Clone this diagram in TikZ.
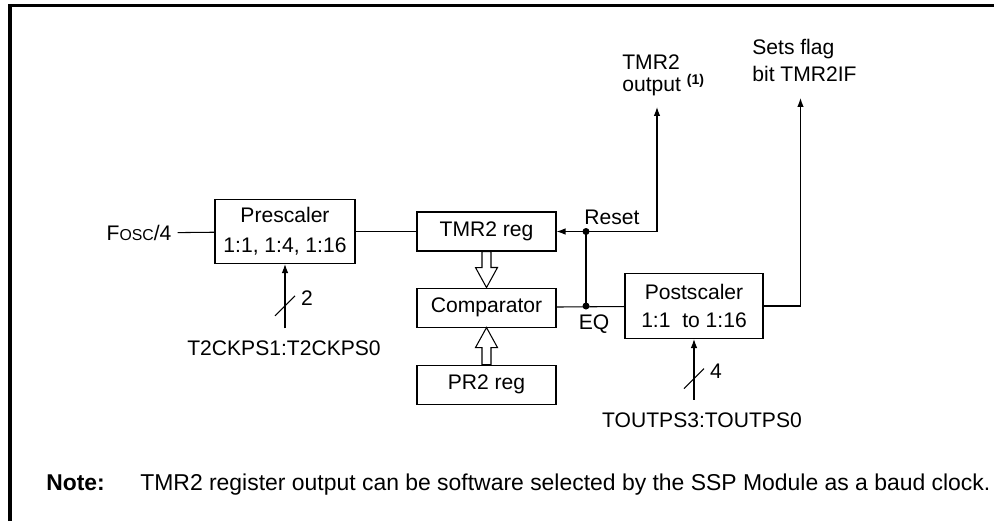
\documentclass[tikz,border=0pt]{standalone}
\usepackage{fontspec}
\setmainfont{Liberation Sans}
\usetikzlibrary{arrows.meta,calc,positioning}

\begin{document}
\begin{tikzpicture}[x=0.02cm,y=-0.02cm,
	every node/.style={font=\fontsize{12}{14}\selectfont},
	blk/.style={draw,line width=0.6pt,inner sep=0pt,align=center,
		minimum width=2.78cm,minimum height=0.78cm},
	wire/.style={line width=0.6pt},
	hollow/.style={draw,line width=0.6pt,fill=white,line join=miter},
	dot/.style={circle,fill,inner sep=0pt,minimum size=1.4mm},
	lbl/.style={inner sep=0pt,align=left},
	buslbl/.style={inner xsep=2pt,inner ysep=7pt},
	>={Latex[length=1.8mm,width=1.3mm]}]
	\useasboundingbox (0,0) rectangle (994,521);
	\draw[line width=2pt] (10,521) -- (10,5.5) -- (994,5.5);

	\node[blk,minimum width=2.8cm,minimum height=1.28cm] (pre) at (285,231.5)
		{Prescaler\\[3pt]1:1, 1:4, 1:16};
	\node[blk] (tmr) at (486.5,231.5) {TMR2 reg};
	\node[blk,below=0.72cm of tmr] (cmp) {Comparator};
	\node[blk,below=0.74cm of cmp] (pr2) {PR2 reg};
	\node[blk,minimum width=2.76cm,minimum height=1.3cm] (post) at (694,306)
		{Postscaler\\[2pt]1:1\ \ to\ 1:16};

	\node (fosc) at (139,233) {F{\fontsize{9}{10}\selectfont OSC}/4};
	\node[buslbl] (t2ck) at (284,348.5) {T2CKPS1:T2CKPS0};
	\node[buslbl] (toutps) at (702,420) {TOUTPS3:TOUTPS0};
	\node[lbl,anchor=south west] (out) at (622,96.5)
		{TMR2\\[-1.5pt]output \textsuperscript{\bfseries(1)}};
	\node[lbl,anchor=south west] (flag) at (752,82) {Sets flag\\[1.3pt]bit TMR2IF};
	\node (reset) at (612,217) {Reset};
	\node (eqlbl) at (594,324) {EQ};

	\coordinate (rst) at (586,231.5);
	\coordinate (eq) at (586,306);
	\coordinate (bend) at (657,231.5);

	\draw[wire] (fosc) -- (pre);
	\draw[wire] (pre) -- (tmr);
	\draw[wire,<->,shorten >=0.21cm] (tmr.east) -- (bend) -- (bend |- out.south);
	\draw[wire] (rst) -- (eq);
	\draw[wire] (cmp) -- (post);
	\draw[wire,->,shorten >=0.32cm] (post.east) -| ([xshift=-0.08cm]flag.south);
	\node[dot] (rstdot) at (rst) {};
	\node[dot] (eqdot) at (eq) {};

	\filldraw[hollow] ($(tmr.south)+(-4.5,0)$) -- ++(0,16) -- ++(-6.5,0) -- (cmp.north)
		-- ++(11,-20) -- ++(-6.5,0) -- ++(0,-16) -- cycle;
	\filldraw[hollow] ($(pr2.north)+(-4.5,0)$) -- ++(0,-17) -- ++(-6.5,0) -- (cmp.south)
		-- ++(11,20) -- ++(-6.5,0) -- ++(0,17) -- cycle;

	\draw[wire,->] (t2ck.north -| pre.south) -- coordinate[pos=.35] (bus1) (pre.south);
	\draw[wire] ($(bus1)+(-10,10)$) -- ($(bus1)+(10,-10)$);
	\node (two) at ($(bus1)+(22,-8)$) {2};
	\draw[wire,->] (toutps.north -| post.south) -- coordinate[pos=.35] (bus2) (post.south);
	\draw[wire] ($(bus2)+(-10,10)$) -- ($(bus2)+(10,-10)$);
	\node (four) at ($(bus2)+(22,-7)$) {4};

	\node[anchor=base west,inner sep=0pt,font=\bfseries\fontsize{13}{15}\selectfont]
		(notehd) at (46,490) {Note:};
	\node[anchor=base west,inner sep=0pt,font=\fontsize{13.05}{15}\selectfont]
		(note) at (140,490)
		{TMR2 register output can be software selected by the SSP Module as a baud clock.};
\end{tikzpicture}
\end{document}
